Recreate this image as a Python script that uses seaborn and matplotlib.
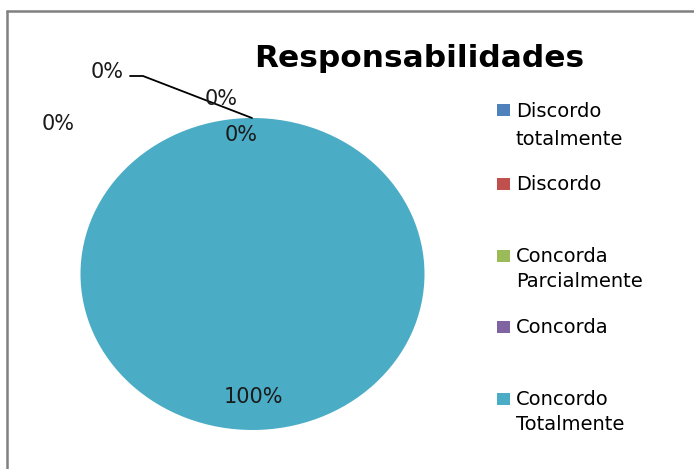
import matplotlib
matplotlib.use("Agg")
import matplotlib.pyplot as plt
import seaborn as sns
from matplotlib.lines import Line2D
from matplotlib.patches import Rectangle

categories = ["Discordo totalmente", "Discordo", "Concorda Parcialmente", "Concorda", "Concordo Totalmente"]
legend_lines = [["Discordo", "totalmente"], ["Discordo"], ["Concorda", "Parcialmente"], ["Concorda"], ["Concordo", "Totalmente"]]
values = [0, 0, 0, 0, 100]
pct_labels = ["0%", "0%", "0%", "0%", "100%"]
colors = ["#4F81BD", "#C0504D", "#9BBB59", "#8064A2", "#4BACC6"]
title = "Responsabilidades"

sns.set_theme(style="white")
plt.rcParams["font.family"] = ["DejaVu Sans"]

W, H = 694, 469
fig = plt.figure(figsize=(W / 100, H / 100), dpi=100)
fig.patch.set_facecolor("white")

def fx(px):
    return px / W

def fy(py):
    return 1 - py / H

# pie axes (slightly elliptical like reference)
cx, cy, rx, ry = 252.5, 274, 172, 156
ax = fig.add_axes([fx(cx - rx), fy(cy + ry), 2 * rx / W, 2 * ry / H])
palette = sns.color_palette(colors)
wedges, _ = ax.pie(values, colors=palette, startangle=90, counterclock=False,
                   wedgeprops=dict(linewidth=0, edgecolor="none"))
ax.set_aspect("auto")
ax.set_xlim(-1, 1)
ax.set_ylim(-1, 1)
ax.axis("off")

# data labels (Excel-style placement)
label_pos = [(107, 72), (221, 99), (58, 124), (241, 135), (253, 397)]
for (px, py), txt in zip(label_pos, pct_labels):
    fig.text(fx(px), fy(py), txt, ha="center", va="center", fontsize=15, color="#1a1a1a")

# leader line for first label
fig.add_artist(Line2D([fx(130), fx(143), fx(252)], [fy(76), fy(76), fy(118)],
                      color="black", linewidth=1.3, transform=fig.transFigure))

# title
fig.text(fx(419), fy(67), title, ha="center", va="baseline", fontsize=22.5,
         fontweight="bold", color="black")

# legend (manual)
baselines = [[117, 145], [190], [262, 287], [333], [405, 430]]
for col, lines, bls in zip(palette, legend_lines, baselines):
    b0 = bls[0]
    fig.add_artist(Rectangle((fx(497), fy(b0 - 0.5)), 13 / W, 12 / H,
                             facecolor=col, edgecolor="none", transform=fig.transFigure))
    for line, bl in zip(lines, bls):
        fig.text(fx(516), fy(bl), line, ha="left", va="baseline", fontsize=14, color="black")

# chart border (top and left visible)
fig.add_artist(Line2D([fx(7), 1], [fy(11), fy(11)], color="#808080", linewidth=1.8,
                      transform=fig.transFigure))
fig.add_artist(Line2D([fx(7), fx(7)], [fy(11), 0], color="#808080", linewidth=1.8,
                      transform=fig.transFigure))

fig.savefig("out.png", dpi=100)
